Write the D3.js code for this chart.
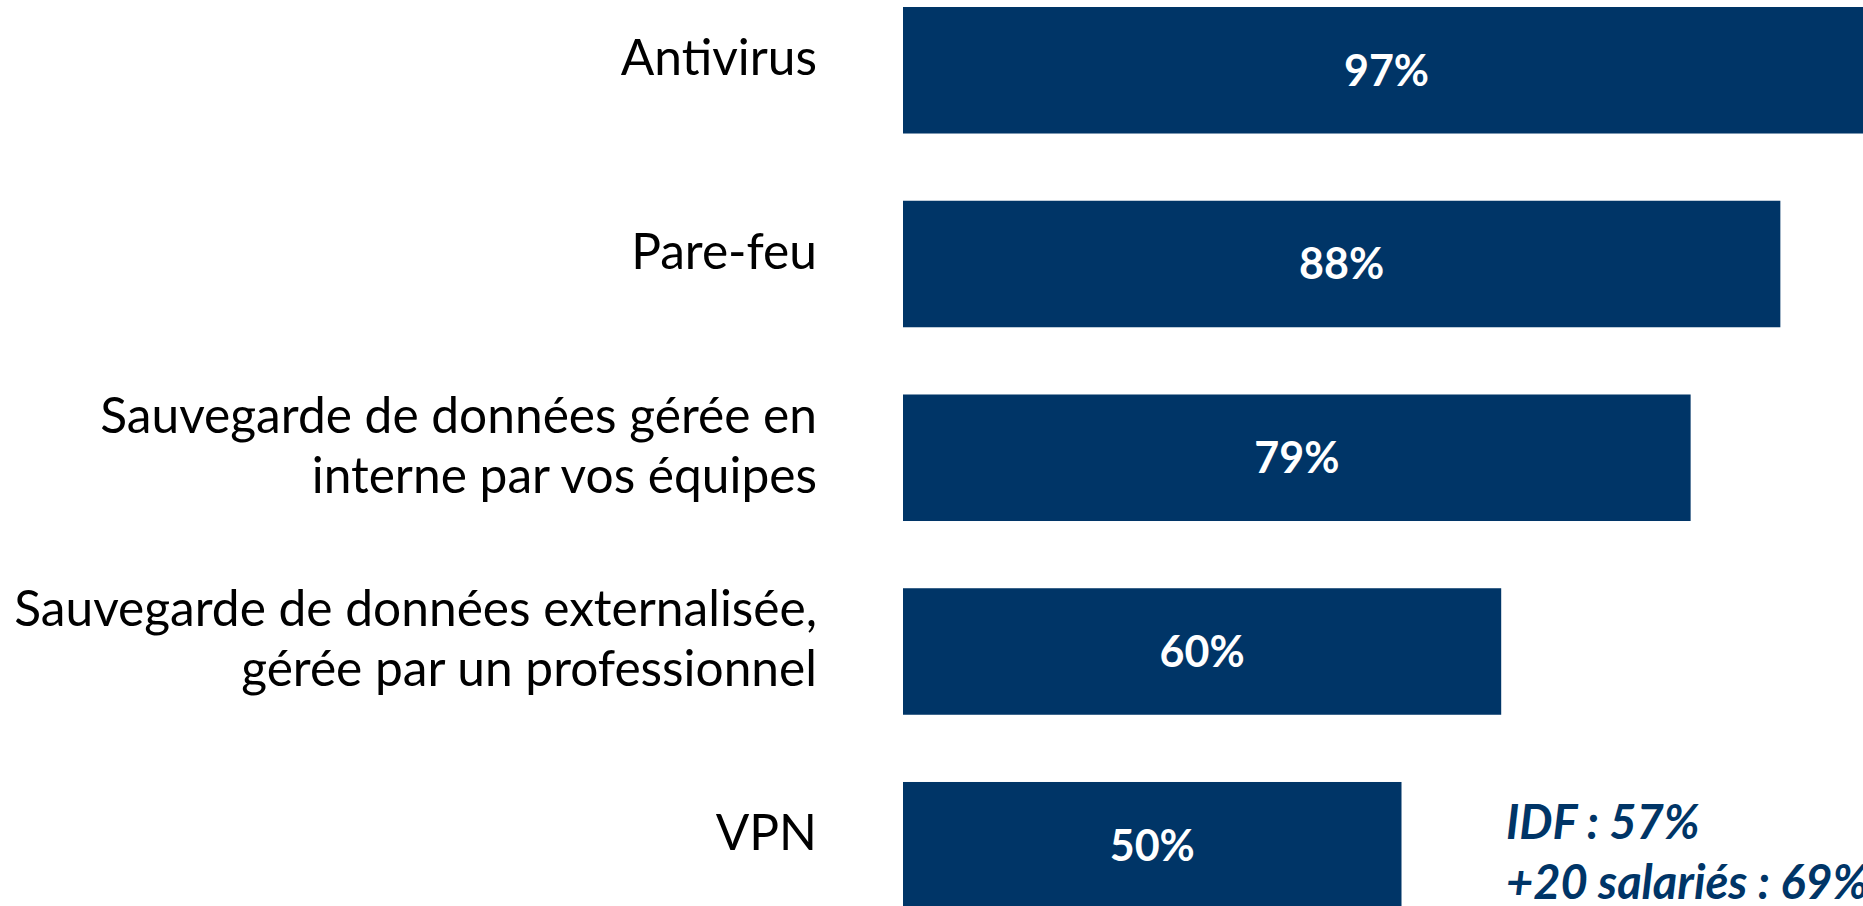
<!DOCTYPE html>
<html>
<head>
<meta charset="utf-8">
<script src="https://cdn.jsdelivr.net/npm/d3@7"></script>
<style>
  html, body { margin: 0; padding: 0; background: #fff; overflow: hidden; }
  svg { display: block; }
  .label { font-family: Lato, "Open Sans", sans-serif; fill: #000; }
  .value { font-family: Lato, "Open Sans", sans-serif; font-weight: 700; fill: #fff; }
  .note { font-family: Lato, "Open Sans", sans-serif; font-weight: 700; font-style: italic; fill: #003567; }
</style>
</head>
<body>
<div id="chart"></div>
<script>
// Chart data
const categories = [
    ["Antivirus"],
    ["Pare-feu"],
    ["Sauvegarde de données gérée en", "interne par vos équipes"],
    ["Sauvegarde de données externalisée,", "gérée par un professionnel"],
    ["VPN"]
];
const values = [97, 88, 79, 60, 50];
const noteLines = ["IDF : 57%", "+20 salariés : 69%"];

const W = 1863, H = 906;
const BAR_COLOR = "#003567";

const svg = d3.select("#chart").append("svg")
    .attr("width", W)
    .attr("height", H);

const keys = categories.map((c, i) => i);

const y = d3.scaleBand()
    .domain(keys)
    .range([7, 908.5])
    .paddingInner(0.347)
    .paddingOuter(0);

const x = d3.scaleLinear()
    .domain([0, 100])
    .range([903, 1900]);

// Bars
svg.selectAll(".bar")
    .data(values)
    .join("rect")
    .attr("class", "bar")
    .attr("x", x(0))
    .attr("y", (d, i) => y(i))
    .attr("width", d => x(d) - x(0))
    .attr("height", y.bandwidth())
    .attr("fill", BAR_COLOR);

// Value labels, centered in each bar
svg.selectAll(".value")
    .data(values)
    .join("text")
    .attr("class", "value")
    .attr("x", d => (x(0) + x(d)) / 2)
    .attr("y", (d, i) => y(i) + y.bandwidth() / 2)
    .attr("dy", "0.36em")
    .attr("text-anchor", "middle")
    .style("font-size", "43px")
    .text(d => d + "%");

// Category labels, right aligned left of the bars
const labelFont = 48;
const lineGap = 60;
const labels = svg.selectAll(".label")
    .data(categories)
    .join("text")
    .attr("class", "label")
    .attr("text-anchor", "end")
    .style("font-size", labelFont + "px");

labels.each(function(lines, i) {
    const cy = y(i) + y.bandwidth() / 2 + 5;
    const t = d3.select(this);
    lines.forEach((line, j) => {
        t.append("tspan")
            .attr("x", 817)
            .attr("y", cy + (j - (lines.length - 1) / 2) * lineGap)
            .text(line);
    });
});

// fit the label font to the width of the longest line in the original
let widest = 0;
labels.selectAll("tspan").each(function() {
    widest = Math.max(widest, this.getComputedTextLength());
});
const fitted = labelFont * 803 / widest;
labels.style("font-size", fitted + "px");

// Side note next to the VPN bar (runs off the right edge, as in the original)
const note = svg.append("text")
    .attr("class", "note")
    .style("font-size", "47px");

note.selectAll("tspan")
    .data(noteLines)
    .join("tspan")
    .attr("x", 1506)
    .attr("y", (d, i) => 839 + i * 60)
    .text(d => d);
</script>
</body>
</html>
